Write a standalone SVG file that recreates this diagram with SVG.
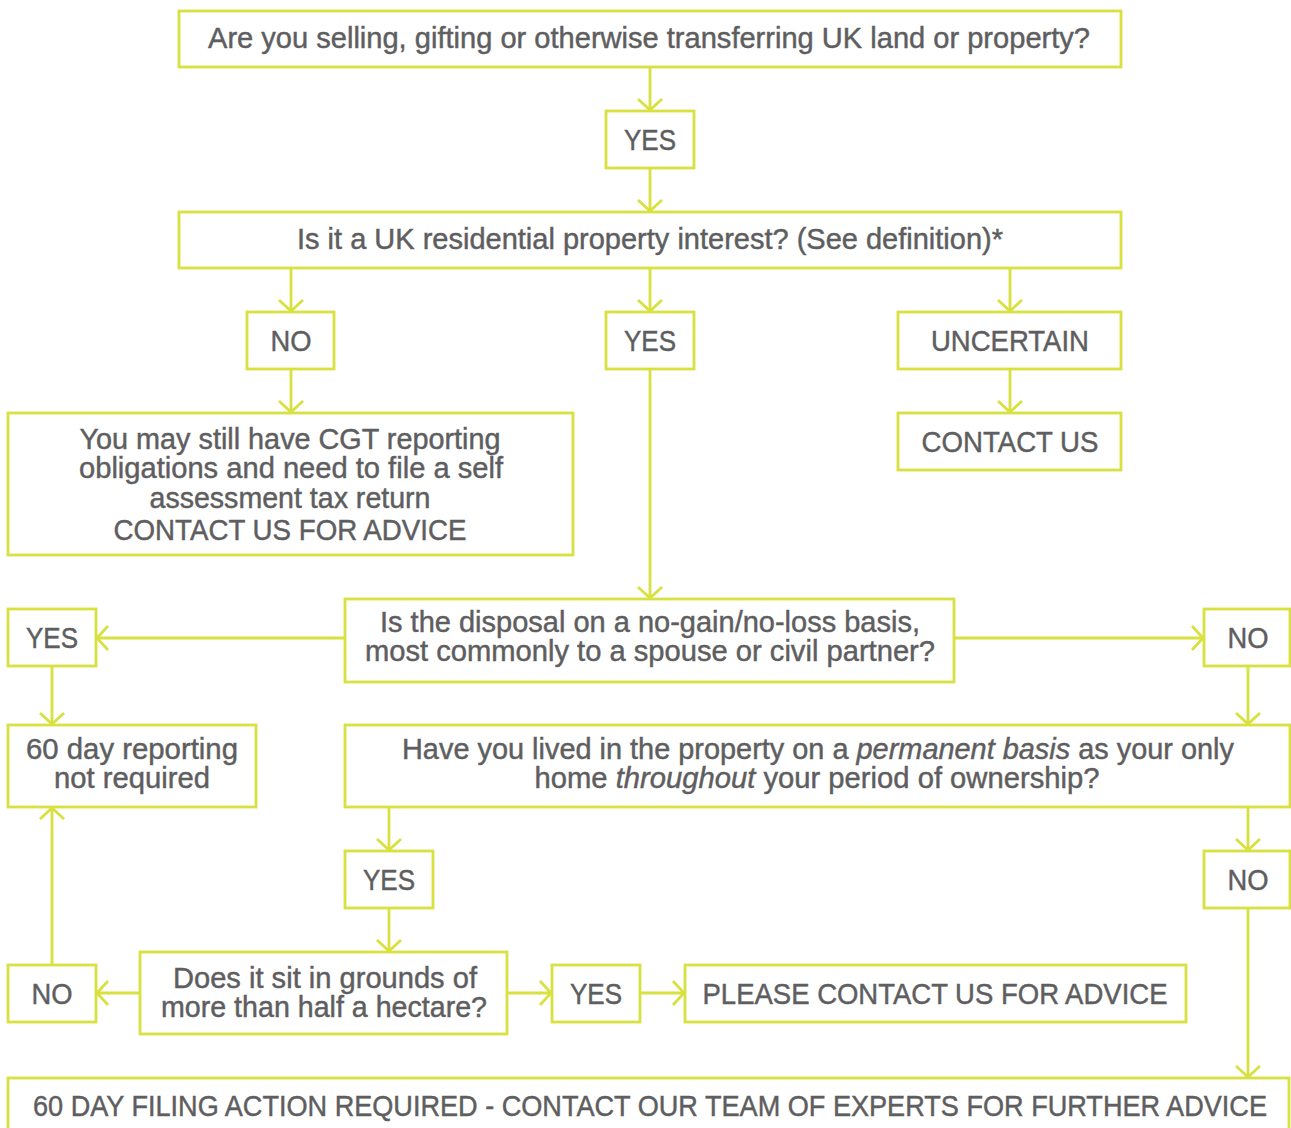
<svg xmlns="http://www.w3.org/2000/svg" width="1291" height="1128" viewBox="0 0 1291 1128">
<style>
.box{fill:#ffffff;stroke:#d8e13f;stroke-width:2.8}
.c{fill:none;stroke:#d8e13f;stroke-width:2.8}
text{font-family:"Liberation Sans",Arial,Helvetica,sans-serif;font-size:29px;fill:#5e5e60;stroke:#5e5e60;stroke-width:0.45;text-anchor:middle}
.i{font-style:italic}
</style>
<defs>
<marker id="ah" markerUnits="userSpaceOnUse" markerWidth="30" markerHeight="30" viewBox="-15 -15 30 30" refX="0" refY="0" orient="auto">
<path d="M-12,-12 L-1,0 L-12,12" fill="none" stroke="#d8e13f" stroke-width="2.8"/>
</marker>
</defs>
<rect width="1291" height="1128" fill="#ffffff"/>
<g id="connectors">
<line class="c" x1="650" y1="67" x2="650" y2="111" marker-end="url(#ah)"/>
<line class="c" x1="650" y1="168" x2="650" y2="212" marker-end="url(#ah)"/>
<line class="c" x1="291" y1="268" x2="291" y2="312" marker-end="url(#ah)"/>
<line class="c" x1="650" y1="268" x2="650" y2="312" marker-end="url(#ah)"/>
<line class="c" x1="1010" y1="268" x2="1010" y2="312" marker-end="url(#ah)"/>
<line class="c" x1="291" y1="369" x2="291" y2="413" marker-end="url(#ah)"/>
<line class="c" x1="1010" y1="369" x2="1010" y2="413" marker-end="url(#ah)"/>
<line class="c" x1="650" y1="369" x2="650" y2="599" marker-end="url(#ah)"/>
<line class="c" x1="345" y1="638" x2="96" y2="638" marker-end="url(#ah)"/>
<line class="c" x1="954" y1="638" x2="1204" y2="638" marker-end="url(#ah)"/>
<line class="c" x1="52" y1="666" x2="52" y2="725" marker-end="url(#ah)"/>
<line class="c" x1="1248" y1="666" x2="1248" y2="725" marker-end="url(#ah)"/>
<line class="c" x1="389" y1="807" x2="389" y2="851" marker-end="url(#ah)"/>
<line class="c" x1="1248" y1="807" x2="1248" y2="851" marker-end="url(#ah)"/>
<line class="c" x1="389" y1="908" x2="389" y2="952" marker-end="url(#ah)"/>
<line class="c" x1="140" y1="993" x2="96" y2="993" marker-end="url(#ah)"/>
<line class="c" x1="507" y1="993" x2="552" y2="993" marker-end="url(#ah)"/>
<line class="c" x1="640" y1="993" x2="685" y2="993" marker-end="url(#ah)"/>
<line class="c" x1="52" y1="965" x2="52" y2="807" marker-end="url(#ah)"/>
<line class="c" x1="1248" y1="908" x2="1248" y2="1078" marker-end="url(#ah)"/>
</g>
<g id="q1"><rect class="box" x="179" y="11" width="942" height="56"/><text x="649" y="48" textLength="882" lengthAdjust="spacingAndGlyphs">Are you selling, gifting or otherwise transferring UK land or property?</text></g>
<g id="yes1"><rect class="box" x="606" y="111" width="88" height="57"/><text x="650" y="150" textLength="52" lengthAdjust="spacingAndGlyphs">YES</text></g>
<g id="q2"><rect class="box" x="179" y="212" width="942" height="56"/><text x="650" y="249" textLength="706" lengthAdjust="spacingAndGlyphs">Is it a UK residential property interest? (See definition)*</text></g>
<g id="no1"><rect class="box" x="247" y="312" width="87" height="57"/><text x="291" y="351" textLength="41" lengthAdjust="spacingAndGlyphs">NO</text></g>
<g id="yes2"><rect class="box" x="606" y="312" width="88" height="57"/><text x="650" y="351" textLength="52" lengthAdjust="spacingAndGlyphs">YES</text></g>
<g id="uncertain"><rect class="box" x="898" y="312" width="223" height="57"/><text x="1010" y="351" textLength="158" lengthAdjust="spacingAndGlyphs">UNCERTAIN</text></g>
<g id="cgt"><rect class="box" x="8" y="413" width="565" height="142"/>
<text x="290" y="449" textLength="421" lengthAdjust="spacingAndGlyphs">You may still have CGT reporting</text>
<text x="291" y="478" textLength="424" lengthAdjust="spacingAndGlyphs">obligations and need to file a self</text>
<text x="290" y="508" textLength="281" lengthAdjust="spacingAndGlyphs">assessment tax return</text>
<text x="290" y="540" textLength="353" lengthAdjust="spacingAndGlyphs">CONTACT US FOR ADVICE</text></g>
<g id="contactus"><rect class="box" x="898" y="413" width="223" height="57"/><text x="1010" y="452" textLength="177" lengthAdjust="spacingAndGlyphs">CONTACT US</text></g>
<g id="q3"><rect class="box" x="345" y="599" width="609" height="83"/>
<text x="650" y="632" textLength="540" lengthAdjust="spacingAndGlyphs">Is the disposal on a no-gain/no-loss basis,</text>
<text x="650" y="661" textLength="570" lengthAdjust="spacingAndGlyphs">most commonly to a spouse or civil partner?</text></g>
<g id="yes3"><rect class="box" x="8" y="609" width="88" height="57"/><text x="52" y="648" textLength="52" lengthAdjust="spacingAndGlyphs">YES</text></g>
<g id="no2"><rect class="box" x="1204" y="609" width="86" height="57"/><text x="1248" y="648" textLength="41" lengthAdjust="spacingAndGlyphs">NO</text></g>
<g id="notreq"><rect class="box" x="8" y="725" width="248" height="82"/>
<text x="132" y="759" textLength="212" lengthAdjust="spacingAndGlyphs">60 day reporting</text>
<text x="132" y="788" textLength="156" lengthAdjust="spacingAndGlyphs">not required</text></g>
<g id="q4"><rect class="box" x="345" y="725" width="945" height="82"/>
<text x="818" y="759" textLength="832" lengthAdjust="spacingAndGlyphs">Have you lived in the property on a <tspan class="i">permanent basis</tspan> as your only</text>
<text x="817" y="788" textLength="565" lengthAdjust="spacingAndGlyphs">home <tspan class="i">throughout</tspan> your period of ownership?</text></g>
<g id="yes4"><rect class="box" x="345" y="851" width="88" height="57"/><text x="389" y="890" textLength="52" lengthAdjust="spacingAndGlyphs">YES</text></g>
<g id="no3"><rect class="box" x="1204" y="851" width="86" height="57"/><text x="1248" y="890" textLength="41" lengthAdjust="spacingAndGlyphs">NO</text></g>
<g id="no4"><rect class="box" x="8" y="965" width="88" height="57"/><text x="52" y="1004" textLength="41" lengthAdjust="spacingAndGlyphs">NO</text></g>
<g id="q5"><rect class="box" x="140" y="952" width="367" height="82"/>
<text x="325" y="988" textLength="304" lengthAdjust="spacingAndGlyphs">Does it sit in grounds of</text>
<text x="324" y="1017" textLength="326" lengthAdjust="spacingAndGlyphs">more than half a hectare?</text></g>
<g id="yes5"><rect class="box" x="552" y="965" width="88" height="57"/><text x="596" y="1004" textLength="52" lengthAdjust="spacingAndGlyphs">YES</text></g>
<g id="advice"><rect class="box" x="685" y="965" width="501" height="57"/><text x="935" y="1004" textLength="465" lengthAdjust="spacingAndGlyphs">PLEASE CONTACT US FOR ADVICE</text></g>
<g id="filing"><rect class="box" x="8" y="1078" width="1281" height="70"/><text x="650" y="1116" textLength="1234" lengthAdjust="spacingAndGlyphs">60 DAY FILING ACTION REQUIRED - CONTACT OUR TEAM OF EXPERTS FOR FURTHER ADVICE</text></g>
</svg>
